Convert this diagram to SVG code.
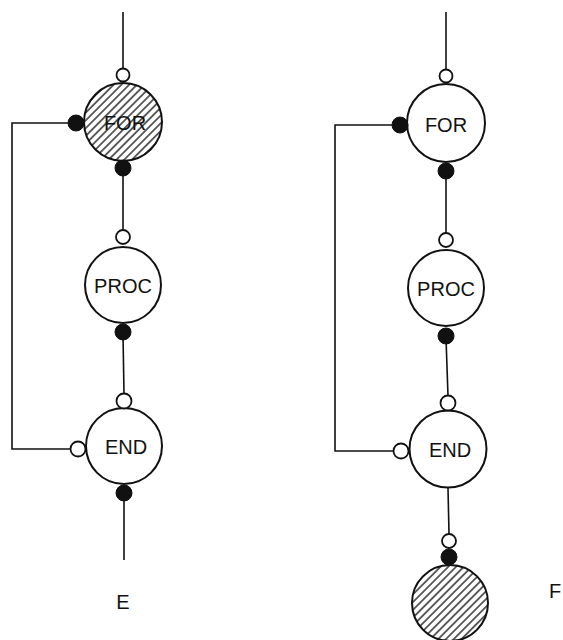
<svg xmlns="http://www.w3.org/2000/svg" width="563" height="640" viewBox="0 0 563 640">
  <style>
    .wire { fill: none; stroke: #111; stroke-width: 1.6; }
    .node { fill: #fff; stroke: #111; stroke-width: 2; }
    .hatched { fill: url(#hatch); stroke: #111; stroke-width: 2; }
    .port-in { fill: #fff; stroke: #111; stroke-width: 1.8; }
    .port-out { fill: #111; stroke: #111; stroke-width: 1; }
    .label { font-family: "Liberation Sans", Arial, sans-serif; font-size: 20px; fill: #111; text-anchor: middle; }
  </style>
  <defs>
    <pattern id="hatch" patternUnits="userSpaceOnUse" width="5.5" height="5.5" patternTransform="rotate(-45)">
      <rect width="5.5" height="5.5" fill="#fff"/>
      <line x1="0" y1="2.75" x2="5.5" y2="2.75" stroke="#111" stroke-width="1.3"/>
    </pattern>
  </defs>

  <rect width="563" height="640" fill="#fff"/>

  <!-- connectors -->
  <g id="connectors">
    <!-- left diagram -->
    <line class="wire" x1="123" y1="12" x2="123" y2="68"/>
    <line class="wire" x1="123" y1="170" x2="123" y2="230"/>
    <line class="wire" x1="123" y1="334" x2="124" y2="394"/>
    <line class="wire" x1="124" y1="495" x2="124" y2="560"/>
    <polyline class="wire" points="69,123 12,123 12,449 71,449"/>
    <!-- right diagram -->
    <line class="wire" x1="446" y1="12" x2="446" y2="69"/>
    <line class="wire" x1="446" y1="173" x2="446" y2="233"/>
    <line class="wire" x1="446" y1="338" x2="448" y2="396"/>
    <line class="wire" x1="448" y1="488" x2="449" y2="534"/>
    <polyline class="wire" points="392,125 335,125 335,451 394,451"/>
  </g>

  <!-- left: FOR (hatched) -->
  <g id="for-left">
    <circle class="hatched" cx="123" cy="122" r="39"/>
    <text class="label" x="125" y="130">FOR</text>
    <circle class="port-in" cx="123" cy="75" r="6.5"/>
    <circle class="port-out" cx="76" cy="123" r="8"/>
    <circle class="port-out" cx="123" cy="168" r="8"/>
  </g>

  <!-- left: PROC -->
  <g id="proc-left">
    <circle class="node" cx="123" cy="285" r="38"/>
    <text class="label" x="123" y="293">PROC</text>
    <circle class="port-in" cx="123" cy="237" r="7"/>
    <circle class="port-out" cx="123" cy="332" r="8"/>
  </g>

  <!-- left: END -->
  <g id="end-left">
    <circle class="node" cx="124" cy="446" r="38"/>
    <text class="label" x="126" y="454">END</text>
    <circle class="port-in" cx="124" cy="401" r="7.5"/>
    <circle class="port-in" cx="78" cy="449" r="7.5"/>
    <circle class="port-out" cx="124" cy="493" r="8"/>
  </g>

  <!-- right: FOR -->
  <g id="for-right">
    <circle class="node" cx="446" cy="123" r="39"/>
    <text class="label" x="446" y="132">FOR</text>
    <circle class="port-in" cx="446" cy="76" r="6.5"/>
    <circle class="port-out" cx="400" cy="125" r="8"/>
    <circle class="port-out" cx="446" cy="171" r="8"/>
  </g>

  <!-- right: PROC -->
  <g id="proc-right">
    <circle class="node" cx="446" cy="288" r="38"/>
    <text class="label" x="446" y="296">PROC</text>
    <circle class="port-in" cx="446" cy="240" r="7"/>
    <circle class="port-out" cx="446" cy="336" r="8"/>
  </g>

  <!-- right: END -->
  <g id="end-right">
    <circle class="node" cx="448" cy="449" r="38.5"/>
    <text class="label" x="450" y="457">END</text>
    <circle class="port-in" cx="448" cy="403" r="7.5"/>
    <circle class="port-in" cx="401" cy="451" r="7.5"/>
  </g>

  <!-- right: terminal (hatched) -->
  <g id="terminal-right">
    <circle class="hatched" cx="450" cy="603" r="38"/>
    <circle class="port-in" cx="449" cy="541" r="7"/>
    <circle class="port-out" cx="449" cy="557" r="8"/>
  </g>

  <!-- captions -->
  <g id="captions">
    <text class="label" x="123" y="609" font-size="21">E</text>
    <text class="label" x="555" y="598" font-size="21">F</text>
  </g>
</svg>
